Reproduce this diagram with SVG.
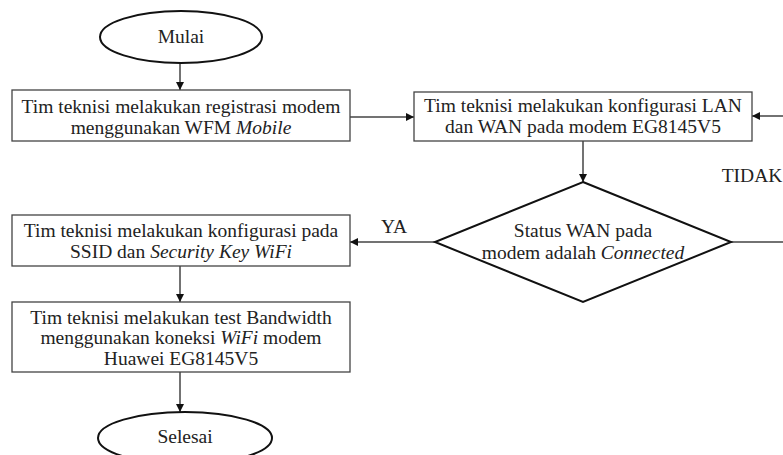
<svg xmlns="http://www.w3.org/2000/svg" width="783" height="455" viewBox="0 0 783 455">
<defs>
<marker id="ah" viewBox="0 0 10 10" refX="10" refY="5" markerWidth="8" markerHeight="8" markerUnits="userSpaceOnUse" orient="auto">
<path d="M0,0 L10,5 L0,10 z" fill="#111"/>
</marker>
<style>
.box{fill:#fff;stroke:#444;stroke-width:1.3}
.term{fill:#fff;stroke:#111;stroke-width:2}
.dia{fill:#fff;stroke:#111;stroke-width:2}
.ln{fill:none;stroke:#444;stroke-width:1.5}
text{font-family:"Liberation Serif","Times New Roman",serif;font-size:19.5px;fill:#222;text-anchor:middle}
.i{font-style:italic}
</style>
</defs>
<rect width="783" height="455" fill="#fff"/>
<g id="connectors">
<path class="ln" d="M180,63 V90" marker-end="url(#ah)"/>
<path class="ln" d="M350,117 H414" marker-end="url(#ah)"/>
<path class="ln" d="M583,141 V182" marker-end="url(#ah)"/>
<path class="ln" d="M435,242 H350" marker-end="url(#ah)"/>
<path class="ln" d="M731,242 H800 V116 H752" marker-end="url(#ah)"/>
<path class="ln" d="M180,266 V302" marker-end="url(#ah)"/>
<path class="ln" d="M180,372 V412" marker-end="url(#ah)"/>
<text x="394" y="233">YA</text>
<text x="752" y="182">TIDAK</text>
</g>
<g id="mulai">
<ellipse class="term" cx="181" cy="37" rx="81" ry="26"/>
<text x="181" y="43">Mulai</text>
</g>
<g id="registrasi">
<rect class="box" x="12" y="90" width="338" height="51"/>
<text x="181" y="113">Tim teknisi melakukan registrasi modem</text>
<text x="181" y="134">menggunakan WFM <tspan class="i">Mobile</tspan></text>
</g>
<g id="konfigurasi-lan-wan">
<rect class="box" x="414" y="92" width="338" height="49"/>
<text x="583" y="112">Tim teknisi melakukan konfigurasi LAN</text>
<text x="583" y="133">dan WAN pada modem EG8145V5</text>
</g>
<g id="status-wan">
<polygon class="dia" points="583,182 731,242 583,302 435,242"/>
<text x="583" y="237">Status WAN pada</text>
<text x="583" y="259">modem adalah <tspan class="i">Connected</tspan></text>
</g>
<g id="konfigurasi-ssid">
<rect class="box" x="12" y="215" width="338" height="51"/>
<text x="181" y="237">Tim teknisi melakukan konfigurasi pada</text>
<text x="181" y="258">SSID dan <tspan class="i">Security Key WiFi</tspan></text>
</g>
<g id="test-bandwidth">
<rect class="box" x="12" y="302" width="338" height="70"/>
<text x="181" y="324">Tim teknisi melakukan test Bandwidth</text>
<text x="181" y="344">menggunakan koneksi <tspan class="i">WiFi</tspan> modem</text>
<text x="181" y="365">Huawei EG8145V5</text>
</g>
<g id="selesai">
<ellipse class="term" cx="185" cy="438" rx="87" ry="26"/>
<text x="185" y="443">Selesai</text>
</g>
</svg>
